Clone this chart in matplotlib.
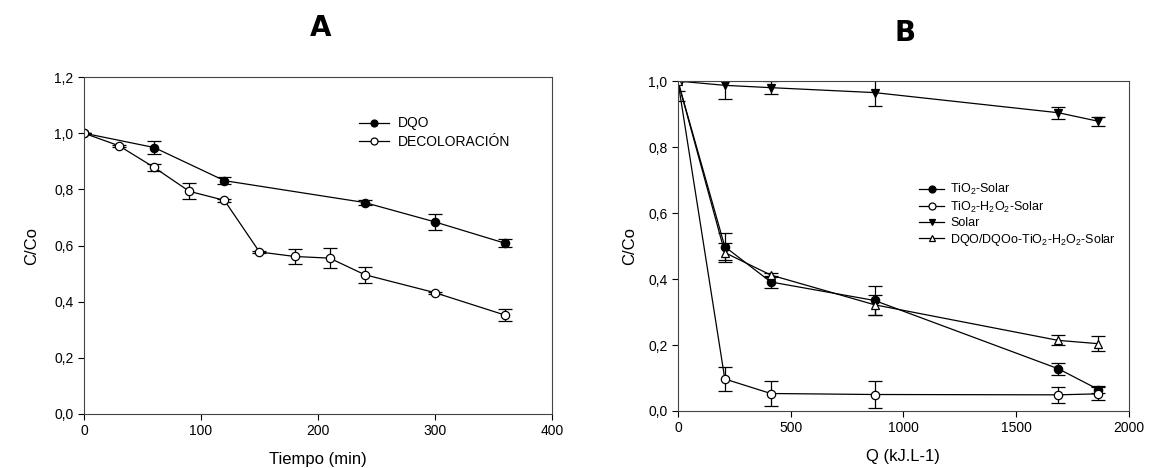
import numpy as np
from matplotlib import pyplot as plt
from matplotlib.lines import Line2D

plt.rcParams["font.family"] = ["Liberation Sans", "DejaVu Sans"]
plt.rcParams["mathtext.fontset"] = "custom"
plt.rcParams["mathtext.rm"] = "Liberation Sans"
plt.rcParams["mathtext.it"] = "Liberation Sans"
plt.rcParams["mathtext.default"] = "regular"

# panel A data
t_dqo = [0, 60, 120, 240, 300, 360]
y_dqo = [1.0, 0.949, 0.831, 0.753, 0.684, 0.608]
e_dqo = [0.0, 0.024, 0.012, 0.010, 0.027, 0.014]

t_dec = [0, 30, 60, 90, 120, 150, 180, 210, 240, 300, 360]
y_dec = [1.0, 0.955, 0.878, 0.793, 0.761, 0.577, 0.561, 0.555, 0.496, 0.432, 0.352]
e_dec = [0.0, 0.004, 0.013, 0.028, 0.005, 0.003, 0.028, 0.036, 0.028, 0.004, 0.021]

# panel B data
q = [0, 208, 412, 872, 1687, 1865]
y_tio2 = [1.0, 0.498, 0.391, 0.335, 0.128, 0.065]
e_tio2 = [0.03, 0.040, 0.018, 0.044, 0.018, 0.010]
y_tio2_h2o2 = [1.0, 0.097, 0.053, 0.050, 0.049, 0.052]
e_tio2_h2o2 = [0.0, 0.035, 0.039, 0.040, 0.025, 0.020]
y_solar = [1.0, 0.987, 0.980, 0.965, 0.904, 0.878]
e_solar = [0.0, 0.040, 0.020, 0.040, 0.018, 0.014]
y_dqo_b = [1.0, 0.480, 0.412, 0.322, 0.214, 0.204]
e_dqo_b = [0.06, 0.028, 0.005, 0.030, 0.015, 0.022]

fig = plt.figure(figsize=(11.49, 4.68), dpi=100)

style = dict(color="black", lw=0.9, ms=6, capsize=5, elinewidth=0.9,
             capthick=0.9, mec="black", mew=0.9)


def setup(ax):
    ax.tick_params(direction="out", length=4, width=0.8, labelsize=10,
                   colors="black")
    for s in ax.spines.values():
        s.set_linewidth(0.8)
        s.set_color("#444444")
    ax.yaxis.set_major_formatter(plt.FuncFormatter(
        lambda v, p: ("%.1f" % v).replace(".", ",")))


def handle(marker, fill):
    return Line2D([], [], color="black", lw=0.9, marker=marker, ms=5,
                  mfc=fill, mec="black", mew=0.9)


# ---- A ----
axA = fig.add_axes([0.0731, 0.1154, 0.4073, 0.720])
axA.errorbar(t_dqo, y_dqo, yerr=e_dqo, marker="o", mfc="black", **style)
axA.errorbar(t_dec, y_dec, yerr=e_dec, marker="o", mfc="white", **style)
axA.set_xlim(0, 400)
axA.set_ylim(0, 1.2)
axA.set_xticks([0, 100, 200, 300, 400])
axA.set_yticks(np.arange(0, 1.21, 0.2))
setup(axA)
axA.set_xlabel("Tiempo (min)", fontsize=12, labelpad=10)
axA.set_ylabel("C/Co", fontsize=12, labelpad=11)
axA.legend([handle("o", "black"), handle("o", "white")],
           ["DQO", "DECOLORACIÓN"],
           loc="upper left", bbox_to_anchor=(0.56, 0.92), frameon=False,
           numpoints=1, handlelength=2.2, handletextpad=0.6, labelspacing=0.3,
           fontsize=10)
fig.text(0.279, 0.94, "A", fontsize=20, fontweight="bold", ha="center",
         va="center", family="DejaVu Sans")

# ---- B ----
axB = fig.add_axes([0.590, 0.1218, 0.3925, 0.705])
axB.errorbar(q, y_tio2, yerr=e_tio2, marker="o", mfc="black", **style)
axB.errorbar(q, y_tio2_h2o2, yerr=e_tio2_h2o2, marker="o", mfc="white", **style)
axB.errorbar(q, y_solar, yerr=e_solar, marker="v", mfc="black", **style)
axB.errorbar(q, y_dqo_b, yerr=e_dqo_b, marker="^", mfc="white", **style)
axB.set_xlim(0, 2000)
axB.set_ylim(0, 1.0)
axB.set_xticks([0, 500, 1000, 1500, 2000])
axB.set_yticks(np.arange(0, 1.01, 0.2))
setup(axB)
axB.set_xlabel("Q (kJ.L-1)", fontsize=12, labelpad=10)
axB.set_ylabel("C/Co", fontsize=12, labelpad=8)
axB.legend([handle("o", "black"), handle("o", "white"),
            handle("v", "black"), handle("^", "white")],
           ["TiO$_2$-Solar", "TiO$_2$-H$_2$O$_2$-Solar", "Solar",
            "DQO/DQOo-TiO$_2$-H$_2$O$_2$-Solar"],
           loc="upper left", bbox_to_anchor=(0.51, 0.728), frameon=False,
           numpoints=1, handlelength=2.0, handletextpad=0.5, labelspacing=0.2,
           fontsize=9)
fig.text(0.788, 0.93, "B", fontsize=20, fontweight="bold", ha="center",
         va="center", family="DejaVu Sans")

plt.savefig("out.png", dpi=100)
